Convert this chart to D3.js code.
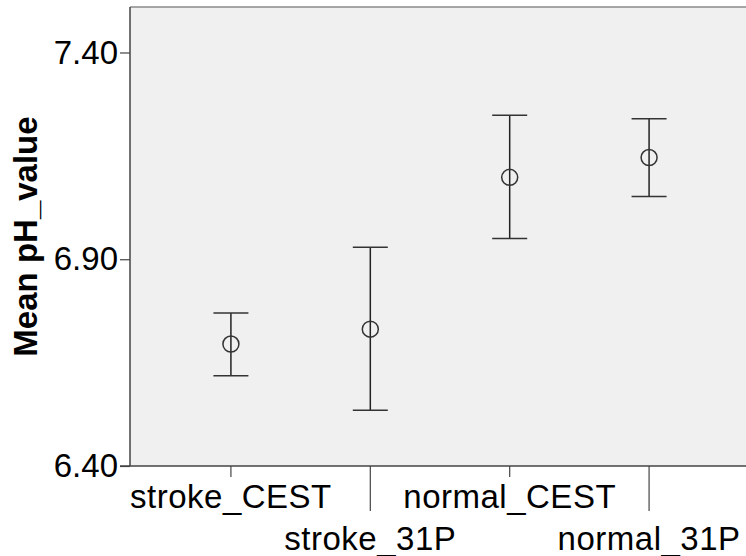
<!DOCTYPE html>
<html>
<head>
<meta charset="utf-8">
<script src="https://cdn.jsdelivr.net/npm/d3@7"></script>
<style>
  html, body { margin: 0; padding: 0; background: #ffffff; }
  svg { display: block; }
  text { font-family: "Liberation Sans", Arial, sans-serif; fill: #000; }
</style>
</head>
<body>
<svg id="chart" width="746" height="556"></svg>
<script>
const categories = ["stroke_CEST", "stroke_31P", "normal_CEST", "normal_31P"];
const means = [6.695, 6.731, 7.098, 7.146];
const lower = [6.618, 6.535, 6.950, 7.052];
const upper = [6.770, 6.929, 7.248, 7.240];
const yTicks = [6.40, 6.90, 7.40];
const yTitle = "Mean pH_value";

(function () {
const svg = d3.select("#chart");
const pLeft = 130, pRight = 750, pTop = 7, pBottom = 466;

const y = d3.scaleLinear().domain([6.40, 7.51]).range([pBottom, pTop]);
const x = d3.scalePoint().domain(categories).range([pLeft, pRight]).padding(0.724);

// plot background
svg.append("rect")
  .attr("x", pLeft).attr("y", pTop)
  .attr("width", pRight - pLeft).attr("height", pBottom - pTop)
  .attr("fill", "#f0f0f0")
  .attr("stroke", "none");
// top border
svg.append("line")
  .attr("x1", pLeft).attr("x2", pRight).attr("y1", pTop).attr("y2", pTop)
  .attr("stroke", "#8a8a8a").attr("stroke-width", 1.5);

// y axis
const yAxis = d3.axisLeft(y).tickValues(yTicks).tickFormat(d3.format(".2f")).tickSize(10).tickPadding(2);
const gy = svg.append("g").attr("transform", `translate(${pLeft},0)`).call(yAxis);
gy.select(".domain").attr("stroke", "#444").attr("stroke-width", 1.5).attr("d", `M0,${pBottom}V${pTop}`);
gy.selectAll(".tick line").attr("stroke", "#444").attr("stroke-width", 1.2);
gy.selectAll(".tick text").attr("font-size", 33).attr("font-family", "Liberation Sans, Arial, sans-serif").attr("fill", "#000");

// x axis
const gx = svg.append("g").attr("transform", `translate(0,${pBottom})`);
gx.append("line").attr("x1", pLeft - 10).attr("x2", pRight).attr("y1", 0).attr("y2", 0)
  .attr("stroke", "#444").attr("stroke-width", 1.5);
categories.forEach((c, i) => {
  const isLong = i % 2 === 1;
  gx.append("line")
    .attr("x1", x(c)).attr("x2", x(c))
    .attr("y1", 0).attr("y2", isLong ? 45 : 11)
    .attr("stroke", "#444").attr("stroke-width", 1.2);
  gx.append("text")
    .attr("x", x(c)).attr("y", isLong ? 84 : 42)
    .attr("text-anchor", "middle")
    .attr("font-size", 33)
    .attr("letter-spacing", "0.5px")
    .text(c);
});

// y title
svg.append("text")
  .attr("transform", `translate(37,${(pTop + pBottom) / 2}) rotate(-90)`)
  .attr("text-anchor", "middle")
  .attr("font-size", 33)
  .attr("font-weight", "bold")
  .text(yTitle);

// error bars
const capHalf = 17.5;
const g = svg.append("g");
categories.forEach((c, i) => {
  const cx = x(c);
  g.append("line").attr("x1", cx).attr("x2", cx).attr("y1", y(upper[i])).attr("y2", y(lower[i]))
    .attr("stroke", "#222").attr("stroke-width", 1.5);
  g.append("line").attr("x1", cx - capHalf).attr("x2", cx + capHalf).attr("y1", y(upper[i])).attr("y2", y(upper[i]))
    .attr("stroke", "#333").attr("stroke-width", 1.5);
  g.append("line").attr("x1", cx - capHalf).attr("x2", cx + capHalf).attr("y1", y(lower[i])).attr("y2", y(lower[i]))
    .attr("stroke", "#333").attr("stroke-width", 1.5);
  g.append("circle").attr("cx", cx).attr("cy", y(means[i])).attr("r", 8)
    .attr("fill", "none").attr("stroke", "#333").attr("stroke-width", 1.5);
});
})();
</script>
</body>
</html>
